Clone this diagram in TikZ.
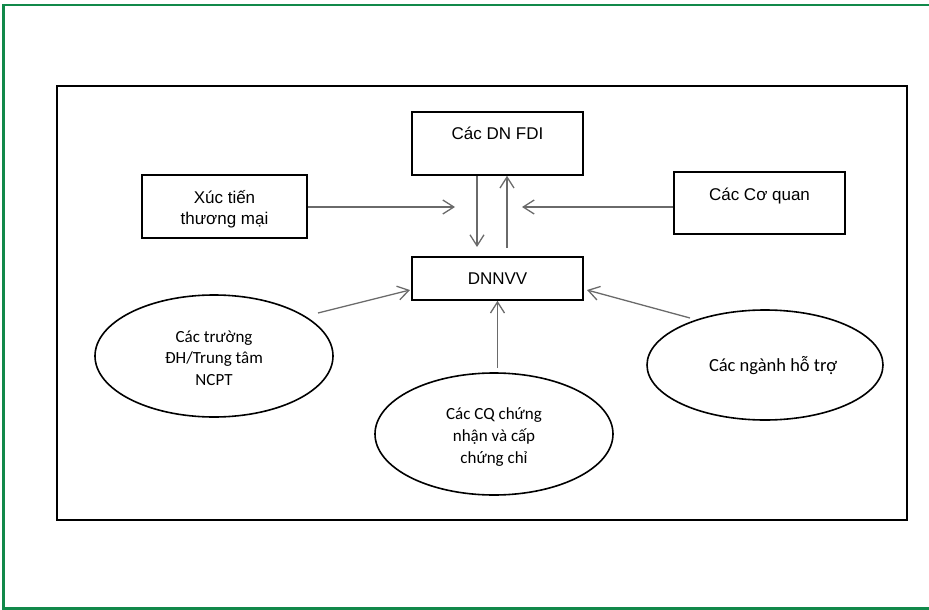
\documentclass[tikz,border=0pt]{standalone}
\usepackage{fontspec}
\setmainfont{Liberation Sans}
\newfontfamily\calibrifont{Carlito}
\usetikzlibrary{arrows.meta,shapes.geometric}
\definecolor{framegreen}{HTML}{11894A}
\definecolor{arrowgray}{HTML}{6A6A6A}
\tikzset{
  x=1pt, y=-1pt,
  box/.style={draw=black, line width=1.6pt, fill=white},
  boxtext/.style={font=\fontsize{17}{21}\selectfont, align=center},
  oval/.style={draw=black, line width=1.6pt, ellipse, align=center, inner sep=0pt},
  ovaltext/.style={font=\calibrifont\fontsize{17}{21.5}\selectfont, align=center},
  flow/.style={draw=arrowgray, line width=1.3pt, -{Straight Barb[length=11pt,width=14pt,line width=1.3pt]}},
}
\begin{document}
\begin{tikzpicture}
\useasboundingbox (0,0) rectangle (929,610);
% outer green frame (runs off the right edge) and inner black frame
\draw[framegreen, line width=2.6pt] (940,5) -- (3.5,5) -- (3.5,608.5) -- (940,608.5);
\draw[black, line width=1.8pt] (57,86) rectangle (907,520);

% rectangular actors
\node[box, minimum width=165pt, minimum height=63pt] (xt) at (224.5,206.5) {};
\node[boxtext] at (224.5,209) {Xúc tiến\\thương mại};
\node[box, minimum width=171pt, minimum height=63pt] (fdi) at (497.5,143.5) {};
\node[boxtext] at (497.5,133) {Các DN FDI};
\node[box, minimum width=171pt, minimum height=43pt] (sme) at (497.5,278.5) {};
\node[boxtext] at (497.5,279) {DNNVV};
\node[box, minimum width=171pt, minimum height=62pt] (cq) at (759.5,203) {};
\node[boxtext] at (759.5,196) {Các Cơ quan};

% supporting institutions
\node[oval, minimum width=238pt, minimum height=122pt] (dh) at (214,356) {};
\node[ovaltext] at (214,358) {Các trường\\ĐH/Trung tâm\\NCPT};
\node[oval, minimum width=238pt, minimum height=122pt] (cc) at (494,434) {};
\node[ovaltext, font=\calibrifont\fontsize{17}{22}\selectfont] at (494,437) {Các CQ chứng\\nhận và cấp\\chứng chỉ};
\node[oval, minimum width=236pt, minimum height=110pt] (nh) at (765,365) {};
\node[ovaltext, font=\calibrifont\fontsize{18.5}{22}\selectfont] at (773,366) {Các ngành hỗ trợ};

% connectors
\coordinate (xtend) at (455,207);
\coordinate (cqend) at (522,207);
\coordinate (ccstart) at (497.5,368);
\draw[flow] (xt.east |- xtend) -- (xtend);
\draw[flow] (cq.west |- cqend) -- (cqend);
\draw[flow] (fdi.south -| 477,0) -- (477,247);
\draw[flow] (507,248) -- (fdi.south -| 507,0);
\draw[flow] (318,313) -- (410,290);
\draw[flow] (ccstart) -- (sme.south);
\draw[flow] (690,318) -- (587,290);
\end{tikzpicture}
\end{document}
